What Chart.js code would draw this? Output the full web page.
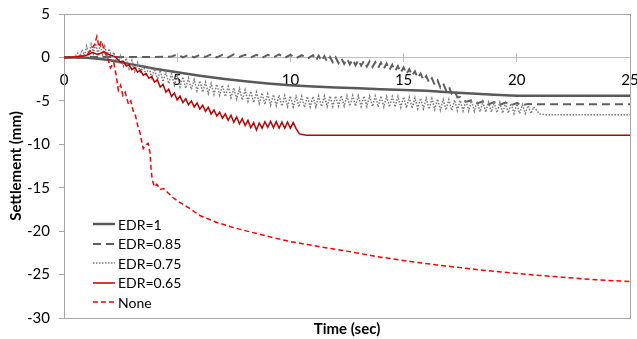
<!DOCTYPE html>
<html>
<head>
<meta charset="utf-8">
<script src="https://cdn.jsdelivr.net/npm/chart.js@4.4.1/dist/chart.umd.min.js"></script>
<style>
  body { margin: 0; background: #fff; }
  #wrap { position: relative; width: 637px; height: 339px; }
  #legend { position: absolute; left: 0; top: 0; font-family: Lato, sans-serif; font-size: 14px; color: #000; }
  .item { position: absolute; left: 93px; height: 18px; display: flex; align-items: center; white-space: nowrap; }
  .item svg { margin-right: 3px; }
</style>
</head>
<body>
<div id="wrap">
  <canvas id="grafica" width="637" height="339"></canvas>
  <div id="legend"></div>
</div>
<script>
// series names, in legend order
const nombres = ['EDR=1', 'EDR=0.85', 'EDR=0.75', 'EDR=0.65', 'None'];

// EDR=1
const tiempo1 = [0, 0.5, 1, 1.5, 2, 2.5, 3, 3.5, 4, 4.5, 5, 6, 7, 8, 9, 10, 11, 12, 13, 14, 15, 16, 17, 18, 19, 20, 25];
const asent1 = [0, 0, -0.05, -0.15, -0.3, -0.55, -0.8, -1.05, -1.3, -1.5, -1.7, -2.1, -2.45, -2.75, -3.0, -3.2, -3.35, -3.45, -3.55, -3.65, -3.75, -3.85, -4.0, -4.15, -4.3, -4.4, -4.4];

// EDR=0.85
const tiempo085 = [0, 1, 2, 3, 4, 4.75,
  5, 5.25, 5.5, 5.75, 6, 6.25, 6.5, 6.75, 7, 7.25, 7.5, 7.75, 8, 8.25, 8.5, 8.75, 9, 9.25, 9.5, 9.75, 10, 10.25, 10.5, 10.75,
  11, 11.125, 11.25, 11.375, 11.5, 11.625, 11.75, 11.875,
  12, 12.125, 12.25, 12.375, 12.5, 12.625, 12.75, 12.875,
  13, 13.125, 13.25, 13.375, 13.5, 13.625, 13.75, 13.875,
  14, 14.125, 14.25, 14.375, 14.5, 14.625, 14.75, 14.875,
  15, 15.125, 15.25, 15.375, 15.5, 15.625, 15.75, 15.875,
  16, 16.125, 16.25, 16.375, 16.5, 16.625, 16.75, 16.875,
  17, 17.125, 17.25, 17.375, 17.5,
  17.75, 18, 18.25, 18.5, 18.75, 19, 19.25, 19.5, 19.75, 20, 20.25, 20.5, 20.75, 25];
const asent085 = [0, 0.05, 0.05, 0.05, 0.05, 0.1,
  0.35, 0.0, 0.3, 0.0, 0.3, 0.05, 0.35, 0.0, 0.3, 0.0, 0.35, 0.05, 0.3, 0.0, 0.3, -0.05, 0.3, 0.0, 0.35, -0.05, 0.3, -0.1, 0.25, -0.15,
  0.25, -0.35, 0.2, -0.4, 0.15, -0.5, 0.05, -0.55,
  0.0, -0.65, -0.1, -0.75, -0.15, -0.8, -0.25, -0.9,
  -0.3, -0.95, -0.4, -1.05, -0.45, -1.1, -0.55, -1.2,
  -0.6, -1.3, -0.7, -1.45, -0.85, -1.55, -1.0, -1.75,
  -1.15, -1.9, -1.35, -2.1, -1.6, -2.35, -1.85, -2.6,
  -2.15, -2.9, -2.4, -3.15, -2.65, -3.45, -3.0, -3.8,
  -3.35, -4.15, -3.85, -4.6, -4.55,
  -5.1, -4.95, -5.3, -5.05, -5.4, -5.15, -5.45, -5.2, -5.5, -5.25, -5.5, -5.35, -5.4, -5.4];

// EDR=0.75
const tiempo075 = [0, 0.5, 0.6, 0.7, 0.8, 0.9, 1.0, 1.1, 1.2, 1.3, 1.4, 1.5, 1.6, 1.7, 1.8, 1.9, 2.0, 2.1, 2.2, 2.3, 2.4,
  2.5, 2.625, 2.75, 2.875, 3, 3.125, 3.25, 3.375, 3.5, 3.625, 3.75, 3.875,
  4, 4.125, 4.25, 4.375, 4.5, 4.625, 4.75, 4.875,
  5, 5.125, 5.25, 5.375, 5.5, 5.625, 5.75, 5.875,
  6, 6.125, 6.25, 6.375, 6.5, 6.625, 6.75, 6.875,
  7, 7.125, 7.25, 7.375, 7.5, 7.625, 7.75, 7.875,
  8, 8.125, 8.25, 8.375, 8.5, 8.625, 8.75, 8.875,
  9, 9.125, 9.25, 9.375, 9.5, 9.625, 9.75, 9.875,
  10, 10.125, 10.25, 10.375, 10.5, 10.625, 10.75, 10.875,
  11, 11.125, 11.25, 11.375, 11.5, 11.625, 11.75, 11.875,
  12, 12.125, 12.25, 12.375, 12.5, 12.625, 12.75, 12.875,
  13, 13.125, 13.25, 13.375, 13.5, 13.625, 13.75, 13.875,
  14, 14.125, 14.25, 14.375, 14.5, 14.625, 14.75, 14.875,
  15, 15.125, 15.25, 15.375, 15.5, 15.625, 15.75, 15.875,
  16, 16.125, 16.25, 16.375, 16.5, 16.625, 16.75, 16.875,
  17, 17.125, 17.25, 17.375, 17.5, 17.625, 17.75, 17.875,
  18, 18.125, 18.25, 18.375, 18.5, 18.625, 18.75, 18.875,
  19, 19.125, 19.25, 19.375, 19.5, 19.625, 19.75, 19.875,
  20, 20.125, 20.25, 20.375, 20.5, 20.625, 20.75,
  21, 21.25, 25];
const asent075 = [0, 0.1, 0.5, 0.1, 0.9, 0.2, 1.3, 0.4, 1.5, 0.5, 1.6, 0.4, 1.5, 0.3, 1.3, 0.2, 1.0, 0.0, 0.6, -0.3, -0.5,
  0.2, -1.0, -0.1, -1.3, -0.35, -1.6, -0.6, -1.85, -0.85, -2.1, -1.1, -2.35,
  -1.3, -2.6, -1.5, -2.8, -1.7, -3.0, -1.9, -3.2,
  -2.1, -3.4, -2.25, -3.55, -2.4, -3.7, -2.55, -3.85,
  -2.7, -4.0, -2.85, -4.15, -3.0, -4.25, -3.1, -4.35,
  -3.2, -4.5, -3.35, -4.65, -3.5, -4.8, -3.6, -4.9,
  -3.75, -5.05, -3.9, -5.2, -4.0, -5.3, -4.1, -5.4,
  -4.2, -5.5, -4.3, -5.55, -4.35, -5.6, -4.4, -5.65,
  -4.45, -5.7, -4.5, -5.7, -4.5, -5.75, -4.5, -5.7,
  -4.5, -5.7, -4.45, -5.65, -4.45, -5.65, -4.45, -5.65,
  -4.45, -5.6, -4.4, -5.6, -4.4, -5.6, -4.4, -5.6,
  -4.4, -5.65, -4.45, -5.65, -4.45, -5.65, -4.45, -5.7,
  -4.45, -5.7, -4.5, -5.7, -4.5, -5.7, -4.5, -5.75,
  -4.55, -5.8, -4.6, -5.85, -4.65, -5.9, -4.7, -5.9,
  -4.7, -5.95, -4.75, -6.0, -4.8, -6.05, -4.85, -6.05,
  -4.85, -6.1, -4.9, -6.1, -4.95, -6.15, -4.95, -6.15,
  -5.0, -6.2, -5.05, -6.25, -5.1, -6.3, -5.15, -6.3,
  -5.15, -6.35, -5.2, -6.4, -5.25, -6.4, -5.3, -6.45,
  -5.35, -6.45, -5.45, -6.45, -5.55, -6.45, -5.7,
  -6.5, -6.6, -6.6];

// EDR=0.65
const tiempo065 = [0, 0.5, 1, 1.25, 1.5, 1.75, 2, 2.25,
  2.5, 2.625, 2.75, 2.875, 3, 3.125, 3.25, 3.375, 3.5, 3.625, 3.75, 3.875,
  4, 4.125, 4.25, 4.375, 4.5, 4.625, 4.75, 4.875,
  5, 5.125, 5.25, 5.375, 5.5, 5.625, 5.75, 5.875,
  6, 6.125, 6.25, 6.375, 6.5, 6.625, 6.75, 6.875,
  7, 7.125, 7.25, 7.375, 7.5, 7.625, 7.75, 7.875,
  8, 8.125, 8.25, 8.375, 8.5, 8.625, 8.75, 8.875,
  9, 9.125, 9.25, 9.375, 9.5, 9.625, 9.75, 9.875,
  10, 10.125, 10.25, 10.4, 10.7, 25];
const asent065 = [0, 0.05, 0.25, 0.55, 0.35, 0.65, 0.3, 0.1,
  -0.55, -0.45, -1.0, -0.85, -1.4, -1.15, -1.7, -1.45, -2.05, -1.85, -2.4, -2.2,
  -2.85, -2.6, -3.4, -3.1, -4.0, -3.65, -4.5, -4.1,
  -4.9, -4.45, -5.2, -4.75, -5.45, -5.0, -5.7, -5.25,
  -5.95, -5.5, -6.2, -5.75, -6.5, -6.05, -6.75, -6.3,
  -7.0, -6.5, -7.25, -6.65, -7.45, -6.85, -7.65, -7.05,
  -7.85, -7.25, -8.1, -7.5, -8.35, -7.55, -8.15, -7.4,
  -8.05, -7.35, -8.1, -7.4, -8.15, -7.45, -8.15, -7.45,
  -8.15, -7.5, -8.2, -8.8, -8.95, -8.95];

// None
const tiempoNone = [0, 0.5, 1.0, 1.2, 1.35, 1.45, 1.55, 1.65, 1.8, 1.95, 2.05, 2.2, 2.3, 2.4, 2.5, 2.6, 2.7, 2.85, 2.95,
  3.05, 3.15, 3.25, 3.36, 3.42, 3.5, 3.6, 3.72, 3.8, 3.85, 3.9, 4.0, 4.1, 4.25, 4.4, 4.6, 4.8, 5.0, 5.5, 6.0, 6.75,
  7.5, 8.25, 9.0, 10.0, 11.3, 12.5, 13.75, 15.3, 16.5, 17.5, 18.5, 19.7, 21, 22, 23.5, 25];
const asentNone = [0, 0.05, 0.3, 0.8, 1.5, 2.4, 1.2, 1.9, 0.6, -0.2, -1.2, -0.6, -2.0, -3.8, -3.2, -4.4, -4.0, -5.4, -5.0,
  -6.1, -6.6, -7.8, -8.7, -9.5, -10.5, -10.1, -9.9, -11.0, -13.0, -14.1, -14.9, -14.6, -15.2, -15.1, -15.6, -16.1, -16.5, -17.3, -18.2, -19.0,
  -19.6, -20.1, -20.6, -21.2, -21.8, -22.3, -22.9, -23.5, -23.9, -24.2, -24.5, -24.8, -25.1, -25.3, -25.6, -25.8];

// axis ticks
const ticksX = [0, 5, 10, 15, 20, 25];
const ticksY = [-30, -25, -20, -15, -10, -5, 0, 5];

function puntos(ts, vs) {
    return ts.map((t, i) => ({ x: t, y: vs[i] }));
}

const datasets = [
    { label: nombres[0], data: puntos(tiempo1, asent1), borderColor: '#595959', borderWidth: 2.5, borderDash: [], order: 5 },
    { label: nombres[1], data: puntos(tiempo085, asent085), borderColor: '#5f5f5f', borderWidth: 2, borderDash: [8, 5], order: 4 },
    { label: nombres[2], data: puntos(tiempo075, asent075), borderColor: '#7a7a7a', borderWidth: 1.5, borderDash: [1.5, 1.5], order: 3 },
    { label: nombres[3], data: puntos(tiempo065, asent065), borderColor: '#c00000', borderWidth: 1.5, borderDash: [], order: 2 },
    { label: nombres[4], data: puntos(tiempoNone, asentNone), borderColor: '#ff0000', borderWidth: 1.5, borderDash: [5, 3], order: 1 }
];
datasets.forEach(d => { d.pointRadius = 0; d.fill = false; d.tension = 0; });

const fuente = { family: 'Lato', size: 15 };

// plot area frame
const marco = {
    id: 'marco',
    beforeDatasetsDraw(chart) {
        const a = chart.chartArea;
        const ctx = chart.ctx;
        ctx.save();
        ctx.strokeStyle = '#a6a6a6';
        ctx.lineWidth = 1;
        ctx.strokeRect(Math.round(a.left) + 0.5, Math.round(a.top) + 0.5, Math.round(a.right - a.left), Math.round(a.bottom - a.top));
        ctx.restore();
    }
};

function sinAlto(scale) {
    scale.height = 0;
    scale.paddingLeft = 0;
    scale.paddingRight = 0;
}

const config = {
    type: 'line',
    data: { datasets },
    plugins: [marco],
    options: {
        responsive: false,
        animation: false,
        events: [],
        layout: { padding: { top: 14, right: 7, left: 0, bottom: 0 } },
        plugins: {
            legend: { display: false },
            tooltip: { enabled: false },
            title: {
                display: true, text: 'Time (sec)', position: 'bottom', fullSize: false,
                color: '#000', font: { family: 'Lato', size: 15, weight: 'bold' },
                padding: { top: 2, bottom: 1 }
            }
        },
        scales: {
            x: {
                type: 'linear', min: 0, max: 25,
                position: { y: 0 },
                afterFit: sinAlto,
                afterBuildTicks(scale) { scale.ticks = ticksX.map(v => ({ value: v })); },
                border: { color: '#bfbfbf' },
                grid: { drawOnChartArea: false, tickLength: -5, color: '#bfbfbf' },
                ticks: { color: '#000', font: fuente, padding: 19, maxRotation: 0 }
            },
            x2: {
                type: 'linear', axis: 'x', min: 0, max: 25,
                position: { y: 0 },
                afterFit: sinAlto,
                afterBuildTicks(scale) { scale.ticks = ticksX.map(v => ({ value: v })); },
                border: { display: false },
                grid: { drawOnChartArea: false, tickLength: 5, color: '#bfbfbf' },
                ticks: { display: false }
            },
            y: {
                type: 'linear', min: -30, max: 5,
                position: 'left',
                afterFit(scale) { scale.width = 64; scale.paddingTop = 0; scale.paddingBottom = 0; },
                afterBuildTicks(scale) { scale.ticks = ticksY.map(v => ({ value: v })); },
                border: { color: '#a6a6a6' },
                grid: { drawOnChartArea: false, tickLength: 5, color: '#a6a6a6' },
                ticks: { color: '#000', font: fuente, padding: 9 },
                title: {
                    display: true, text: 'Settlement (mm)', color: '#000',
                    font: { family: 'Lato', size: 15, weight: 'bold' },
                    padding: { top: 7, bottom: 0 }
                }
            }
        }
    }
};

window.grafica = new Chart(document.getElementById('grafica'), config);

// legend inside the plot, lower left
const leyenda = document.getElementById('legend');
grafica.data.datasets.forEach((d, i) => {
    const fila = document.createElement('div');
    fila.className = 'item';
    fila.style.top = (215 + i * 19.6) + 'px';
    const svgNS = 'http://www.w3.org/2000/svg';
    const svg = document.createElementNS(svgNS, 'svg');
    svg.setAttribute('width', '22');
    svg.setAttribute('height', '4');
    const linea = document.createElementNS(svgNS, 'line');
    linea.setAttribute('x1', '0'); linea.setAttribute('y1', '2');
    linea.setAttribute('x2', '22'); linea.setAttribute('y2', '2');
    linea.setAttribute('stroke', d.borderColor);
    linea.setAttribute('stroke-width', d.borderWidth);
    if (d.borderDash.length) linea.setAttribute('stroke-dasharray', d.borderDash.join(' '));
    svg.appendChild(linea);
    const texto = document.createElement('span');
    texto.textContent = d.label;
    fila.appendChild(svg);
    fila.appendChild(texto);
    leyenda.appendChild(fila);
});
</script>
</body>
</html>
